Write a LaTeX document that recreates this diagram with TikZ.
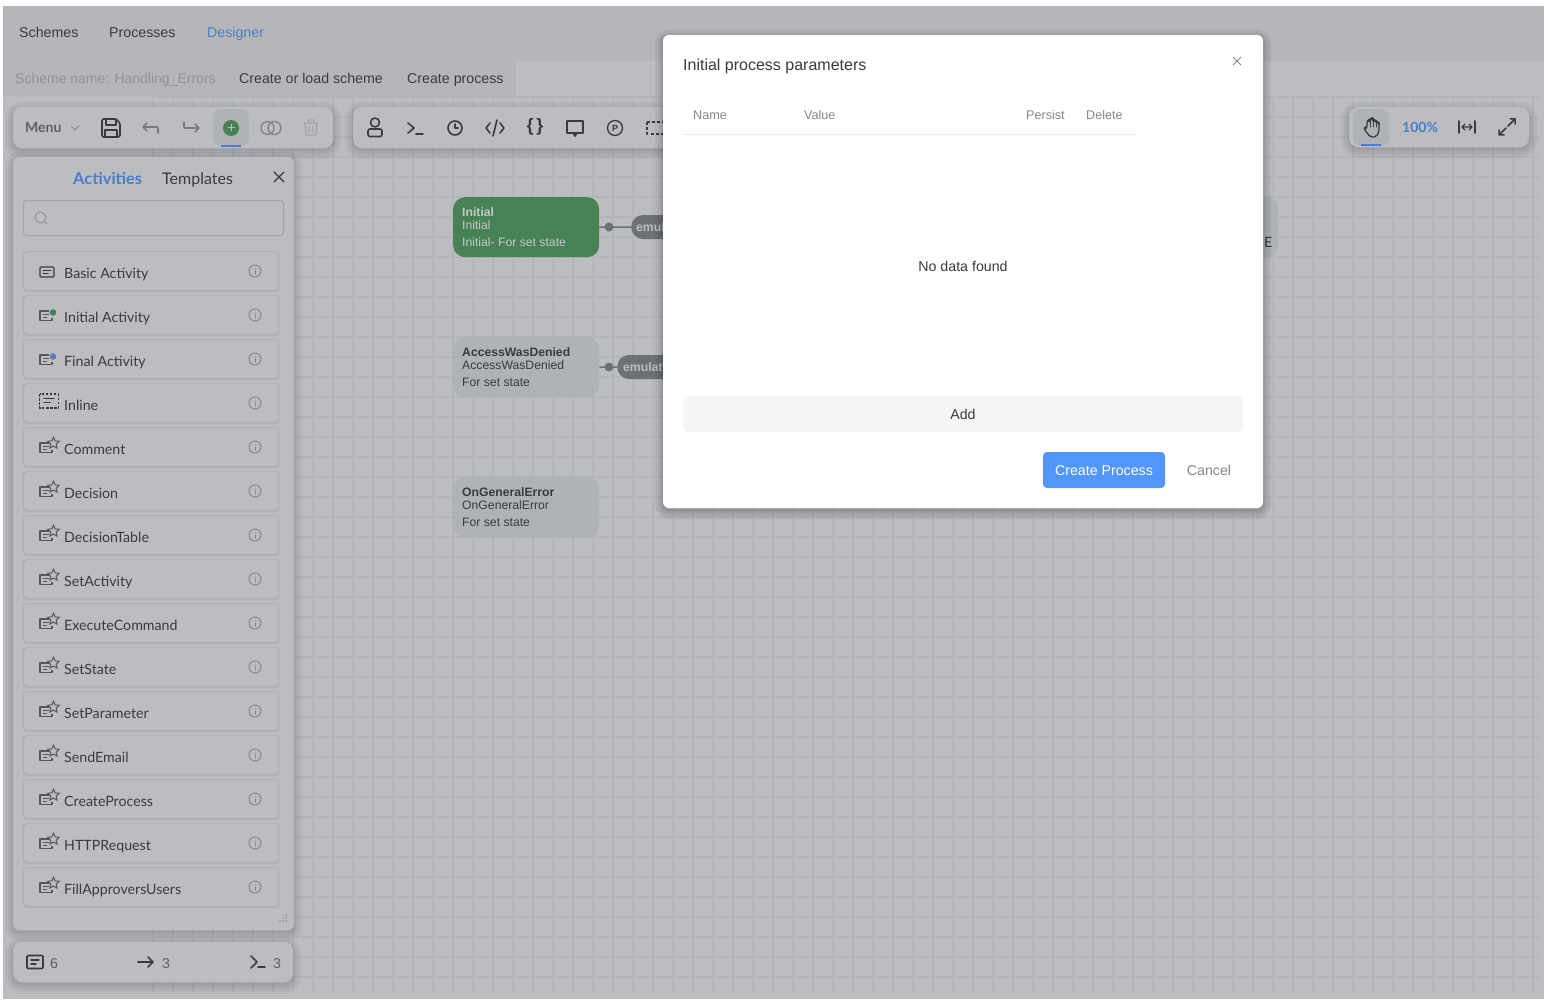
\documentclass[tikz,border=0pt]{standalone}
\usepackage{fontspec}
\setmainfont{Liberation Sans}
\newfontfamily\latofont{Lato}
\usetikzlibrary{shapes.geometric}

\definecolor{pagegray}{HTML}{BCBDC1}
\definecolor{headgray}{HTML}{B5B6BA}
\definecolor{gridgray}{HTML}{B4B5B9}
\definecolor{barblue}{HTML}{4A7DC9}
\definecolor{inkgray}{HTML}{3A3B3D}
\definecolor{softgray}{HTML}{86878A}
\definecolor{activegray}{HTML}{AFB3B5}
\definecolor{statusgreen}{HTML}{478255}
\definecolor{pillgray}{HTML}{6C7174}
\definecolor{askblue}{HTML}{5296FB}

\tikzset{
  softshade/.style={
    preaction={draw=black,draw opacity=#1,line width=16pt,transform canvas={yshift=-3pt}},
    preaction={draw=black,draw opacity=#1,line width=10pt,transform canvas={yshift=-3pt}},
    preaction={draw=black,draw opacity=#1,line width=5pt,transform canvas={yshift=-3pt}},
    preaction={draw=black,draw opacity=#1,line width=2pt,transform canvas={yshift=-2pt}}},
  softshade/.default=.04,
  bar/.style={fill=pagegray,rounded corners=9pt,softshade},
  txt/.style={inner sep=0pt,anchor=base west,text=inkgray,font=\fontsize{14.2}{17}\selectfont},
  ltxt/.style={txt,font=\latofont\fontsize{14.2}{17}\selectfont},
  smalltxt/.style={txt,font=\fontsize{12.2}{14}\selectfont},
  boldtxt/.style={smalltxt,font=\bfseries\fontsize{12.2}{14}\selectfont},
  headtxt/.style={txt,text=softgray,font=\fontsize{12.6}{14}\selectfont},
  itembox/.style={draw=gridgray!90!black,rounded corners=3pt,fill=pagegray,anchor=north west,
    minimum width=255pt,minimum height=38.5pt,inner sep=0pt,
    preaction={draw=black,draw opacity=.05,line width=2pt,transform canvas={yshift=-1pt}}},
  state/.style={rounded corners=12pt,anchor=north west,minimum width=146pt,minimum height=60pt,inner sep=0pt,fill=activegray},
  pillbox/.style={fill=pillgray,rounded corners=12pt,anchor=west,minimum width=70pt,minimum height=24pt,inner sep=0pt},
  dotmark/.style={circle,fill=pillgray,minimum size=9pt,inner sep=0pt},
  icon/.style={draw=inkgray,line width=1.6pt,line cap=round,line join=round},
  lighticon/.style={draw=softgray,line width=1.2pt,line cap=round,line join=round},
}

% small card glyph, open at the upper right
\newcommand{\cardglyph}[2]{%
  \begin{scope}[shift={(#1,#2)}]
    \draw[draw=inkgray!85,line width=1.3pt,line join=round] (3,-4) -- (-6,-4) -- (-6,5.5) -- (6,5.5) -- (6,3);
    \draw[draw=inkgray!85,line width=1.2pt] (-3,-.5) -- (3,-.5) (-3,2.5) -- (1,2.5);
  \end{scope}}
\newcommand{\infoglyph}[2]{%
  \draw[lighticon,line width=.9pt] (#1,#2) circle (6pt);
  \draw[lighticon,line width=1pt] (#1,#2-.5) -- (#1,#2+3) (#1,#2-3) -- (#1,#2-2.6);}

\begin{document}
\begin{tikzpicture}[x=1pt,y=-1pt]
\useasboundingbox (0,0) rectangle (1548,1006);
% page and grid
\fill[white] (0,0) rectangle (1548,1006);
\fill[pagegray] (3,6) rectangle (1544,999);
\fill[headgray] (3,6) rectangle (1544,61);
\fill[headgray] (3,61) rectangle (516,96);
\foreach \gx in {153,173,...,1533} \draw[gridgray,line width=1.5pt] (\gx,97) -- (\gx,992);
\foreach \gy in {97,117,...,977} \draw[gridgray,line width=1.5pt] (153,\gy) -- (1539,\gy);

% tabs
\node[txt] (schemes) at (19,38) {Schemes};
\node[txt] (processes) at (109,38) {Processes};
\node[txt,text=barblue] (designer) at (207,38) {Designer};
\node[txt,text=softgray!80!pagegray,font=\fontsize{14}{17}\selectfont] (schemename) at (15,84) {Scheme name: Handling\_Errors};
\node[txt] (loadscheme) at (239,84) {Create or load scheme};
\node[txt] (createproc) at (407,84) {Create process};

% states
\node[state,fill=statusgreen] (initial) at (453,197) {};
\node[boldtxt,text=pagegray!85!white] (initialA) at (462,216) {Initial};
\node[smalltxt,text=pagegray!85!white] (initialB) at (462,229) {Initial};
\node[smalltxt,text=pagegray!85!white] (initialC) at (462,246) {Initial- For set state};
\node[pillbox] (pillA) at (631,227) {};
\node[boldtxt,text=pagegray] (pillAtxt) at (636,231) {emul};
\draw[pillgray,line width=1.5pt] (initial) -- (pillA);
\node[dotmark] (dotA) at (609,227) {};

\node[state] (denied) at (453,337) {};
\node[boldtxt] (deniedA) at (462,356) {AccessWasDenied};
\node[smalltxt] (deniedB) at (462,369) {AccessWasDenied};
\node[smalltxt] (deniedC) at (462,386) {For set state};
\node[pillbox] (pillB) at (617,367) {};
\node[boldtxt,text=pagegray] (pillBtxt) at (623,371) {emulat};
\draw[pillgray,line width=1.5pt] (denied) -- (pillB);
\node[dotmark] (dotB) at (609,367) {};

\node[state] (general) at (453,477) {};
\node[boldtxt] (generalA) at (462,496) {OnGeneralError};
\node[smalltxt] (generalB) at (462,509) {OnGeneralError};
\node[smalltxt] (generalC) at (462,526) {For set state};

\node[state,minimum width=80pt] (hidden) at (1198,197) {};
\node[ltxt] (hiddentxt) at (1264,247) {E};

% main toolbar
\fill[bar] (13,107) rectangle (333,148);
\node[ltxt,text=softgray!70!black,font=\latofont\bfseries\fontsize{14}{17}\selectfont] (menu) at (25,133) {Menu};
\draw[lighticon,line width=.8pt] (71,126) -- (75,130) -- (79,126);
\draw[icon,rounded corners=1.5pt] (102,119) -- (116,119) -- (120,123) -- (120,137) -- (102,137) -- cycle;
\draw[icon,line width=1.3pt] (106,119) -- (106,125) -- (116,125) -- (116,119) (105,137) -- (105,130) -- (117,130) -- (117,137);
\draw[lighticon,line width=1.6pt,softgray!90!black,rounded corners=1pt] (147,123) -- (143,127) -- (147,131) (143,127) -- (158,127) -- (158,133);
\draw[lighticon,line width=1.6pt,softgray!90!black,rounded corners=1pt] (195,124) -- (199,128) -- (195,132) (199,128) -- (184,128) -- (184,122.5);
\fill[activegray,rounded corners=8pt] (213,109) rectangle (249,146);
\fill[barblue] (221,145) rectangle (241,147);
\fill[statusgreen] (231,128) circle (8pt);
\draw[pagegray,line width=1pt] (227.5,128) -- (234.5,128) (231,124.5) -- (231,131.5);
\draw[lighticon,line width=1.4pt] (267.5,128) circle (6.5pt) (274.5,128) circle (6.5pt);
\draw[lighticon,line width=1.4pt,softgray!45!pagegray] (304,123) -- (318,123) (308,123) -- (308,120) -- (314,120) -- (314,123) (305,123) -- (306,135) -- (316,135) -- (317,123) (309,127) -- (309,132) (313,127) -- (313,132);

% second toolbar
\fill[bar] (353,107) rectangle (680,148);
\draw[icon] (375,122.5) circle (4.5pt);
\draw[icon,rounded corners=2pt] (368,129) rectangle (382,136.5);
\draw[icon] (408,123) -- (414,128) -- (408,133) (416,134) -- (423,134);
\draw[icon] (455,128) circle (7pt) (455,124) -- (455,128) -- (458,128);
\draw[icon] (490,123) -- (486,128) -- (490,133) (500,123) -- (504,128) -- (500,133) (497,120) -- (493,136);
\node[txt,font=\bfseries\fontsize{18}{18}\selectfont,anchor=center] (braces) at (535,127) {\{\,\}};
\draw[icon] (567,121) rectangle (583,133) (573,133) -- (575,136) -- (577,133);
\draw[icon,line width=1.3pt] (615,128) circle (7.5pt);
\node[txt,font=\bfseries\fontsize{9}{9}\selectfont,anchor=center] (parambadge) at (615,128) {P};
\draw[icon,dashed,dash pattern=on 3pt off 2.2pt,line cap=butt] (647,122) rectangle (665,134);

% zoom toolbar
\fill[bar] (1349,107) rectangle (1529,147);
\fill[activegray,rounded corners=8pt] (1353,109) rectangle (1389,146);
\fill[barblue] (1361,144.5) rectangle (1381,146.5);
\draw[icon,line width=1.3pt,rounded corners=2pt] (1368,134) -- (1364,129) -- (1365,127) -- (1367,128) -- (1367,121) -- (1369,120) -- (1370,121) -- (1370,119) -- (1372,118) -- (1373,119) -- (1373,120) -- (1375,120) -- (1376,122) -- (1378,122) -- (1379,123) -- (1379,132) -- (1376,137) -- (1370,137) -- cycle;
\draw[icon,line width=1pt] (1370,121) -- (1370,127) (1373,120) -- (1373,127) (1376,122) -- (1376,127);
\node[ltxt,text=barblue,font=\latofont\bfseries\fontsize{14}{17}\selectfont] (zoomlevel) at (1402,133) {100\%};
\draw[icon] (1459,121) -- (1459,133) (1475,121) -- (1475,133);
\draw[icon,line width=1.3pt] (1462,127) -- (1472,127) (1465,124) -- (1462,127) -- (1465,130) (1469,124) -- (1472,127) -- (1469,130);
\draw[icon,line width=1.5pt] (1508,126) -- (1515,119) (1510,119) -- (1515,119) -- (1515,124);
\draw[icon,line width=1.5pt] (1506,128) -- (1499,135) (1499,130) -- (1499,135) -- (1504,135);

% activities panel
\fill[bar,rounded corners=6pt] (13,157) rectangle (294,930);
\node[ltxt,text=barblue,font=\latofont\bfseries\fontsize{16.4}{17}\selectfont] (activities) at (73,184) {Activities};
\node[ltxt,font=\latofont\fontsize{16}{17}\selectfont] (templates) at (162,184) {Templates};
\draw[icon,line width=1.4pt] (274,172) -- (284,182) (284,172) -- (274,182);
\draw[gridgray!90!black,line width=1pt,rounded corners=3pt] (23.5,200.5) rectangle (283.5,235.5);
\draw[lighticon,softgray!80!pagegray,line width=1pt] (40.5,217.5) circle (5.5pt) (44.5,221.5) -- (47,224);
\foreach \txt [count=\i from 0] in {Basic Activity,Initial Activity,Final Activity,Inline,Comment,Decision,DecisionTable,SetActivity,ExecuteCommand,SetState,SetParameter,SendEmail,CreateProcess,HTTPRequest,FillApproversUsers}{
  \pgfmathsetmacro{\cy}{271+44*\i}
  \node[itembox] (item\i) at (23.5,\cy-19.5) {};
  \node[ltxt] (label\i) at (64,\cy+7) {\txt};
  \infoglyph{255}{\cy}
  \ifnum\i=3\relax\else\ifnum\i=0\relax\else
    \cardglyph{46}{\cy}
  \fi\fi
  \ifnum\i>3
    \fill[pagegray] (50,\cy-8) rectangle (60,\cy+2);
    \node[star,star points=5,star point ratio=2.1,draw=inkgray!85,line width=1pt,fill=pagegray,inner sep=0pt,minimum size=12pt] (star\i) at (53.5,\cy-3.8) {};
  \fi
}
% glyphs of the first rows
\draw[icon,line width=1.2pt,rounded corners=1pt] (40,267) rectangle (54,277);
\draw[icon,line width=1.2pt] (43,270.5) -- (51,270.5) (43,273.5) -- (48,273.5);
\fill[pagegray] (53,312.5) circle (4.3pt);
\fill[statusgreen] (53,312.5) circle (3.3pt);
\fill[pagegray] (53,356.5) circle (4.3pt);
\fill[barblue!75!softgray] (53,356.5) circle (3.3pt);
\draw[icon,line width=1.5pt,dash pattern=on 2.5pt off 1.6pt,line cap=butt] (39.5,394) rectangle (58.5,408);
\draw[icon,line width=1.3pt] (44,398.5) -- (54,398.5) (44,402.5) -- (50,402.5);
% resize handle
\foreach \hx/\hy in {286/915,283/918,286/918,280/921,283/921,286/921}
  \fill[softgray] (\hx,\hy) circle (.8pt);

% bottom counters
\fill[bar] (13,942) rectangle (293,982);
\draw[icon,rounded corners=1pt] (27,955.5) rectangle (43,968.5);
\draw[icon,line width=1.4pt] (31,960) -- (39,960) (31,964) -- (36,964);
\node[txt,text=softgray!70!black] (countA) at (50,968) {6};
\draw[icon] (138,962) -- (153,962) (148,957) -- (153,962) -- (148,967);
\node[txt,text=softgray!70!black] (countB) at (162,968) {3};
\draw[icon] (251,956) -- (257,962) -- (251,968) (258,967) -- (265,967);
\node[txt,text=softgray!70!black] (countC) at (273,968) {3};

% dialog
\fill[white,rounded corners=6pt,softshade=.06] (663,35) rectangle (1263,508);
\node[txt,font=\fontsize{16}{18}\selectfont] (title) at (683,71) {Initial process parameters};
\draw[softgray,line width=.9pt] (1233,57) -- (1241,65) (1241,57) -- (1233,65);
\node[headtxt] (colname) at (693,119.5) {Name};
\node[headtxt] (colvalue) at (804,119.5) {Value};
\node[headtxt] (colpersist) at (1026,119.5) {Persist};
\node[headtxt] (coldelete) at (1086,119.5) {Delete};
\draw[black!8,line width=1pt] (683,134.5) -- (1136,134.5);
\node[txt,anchor=base] (nodata) at (963,271) {No data found};
\node[fill=black!4,rounded corners=6pt,minimum width=560pt,minimum height=36pt,inner sep=0pt] (addbar) at (963,414) {};
\node[txt,anchor=base] (addtxt) at (963,419) {Add};
\node[fill=askblue,rounded corners=4pt,minimum width=122pt,minimum height=36pt,inner sep=0pt] (createbtn) at (1104,470) {};
\node[txt,text=white,anchor=base] (createtxt) at (1104,475) {Create Process};
\node[txt,text=softgray,anchor=base] (canceltxt) at (1209,475) {Cancel};
\end{tikzpicture}
\end{document}
